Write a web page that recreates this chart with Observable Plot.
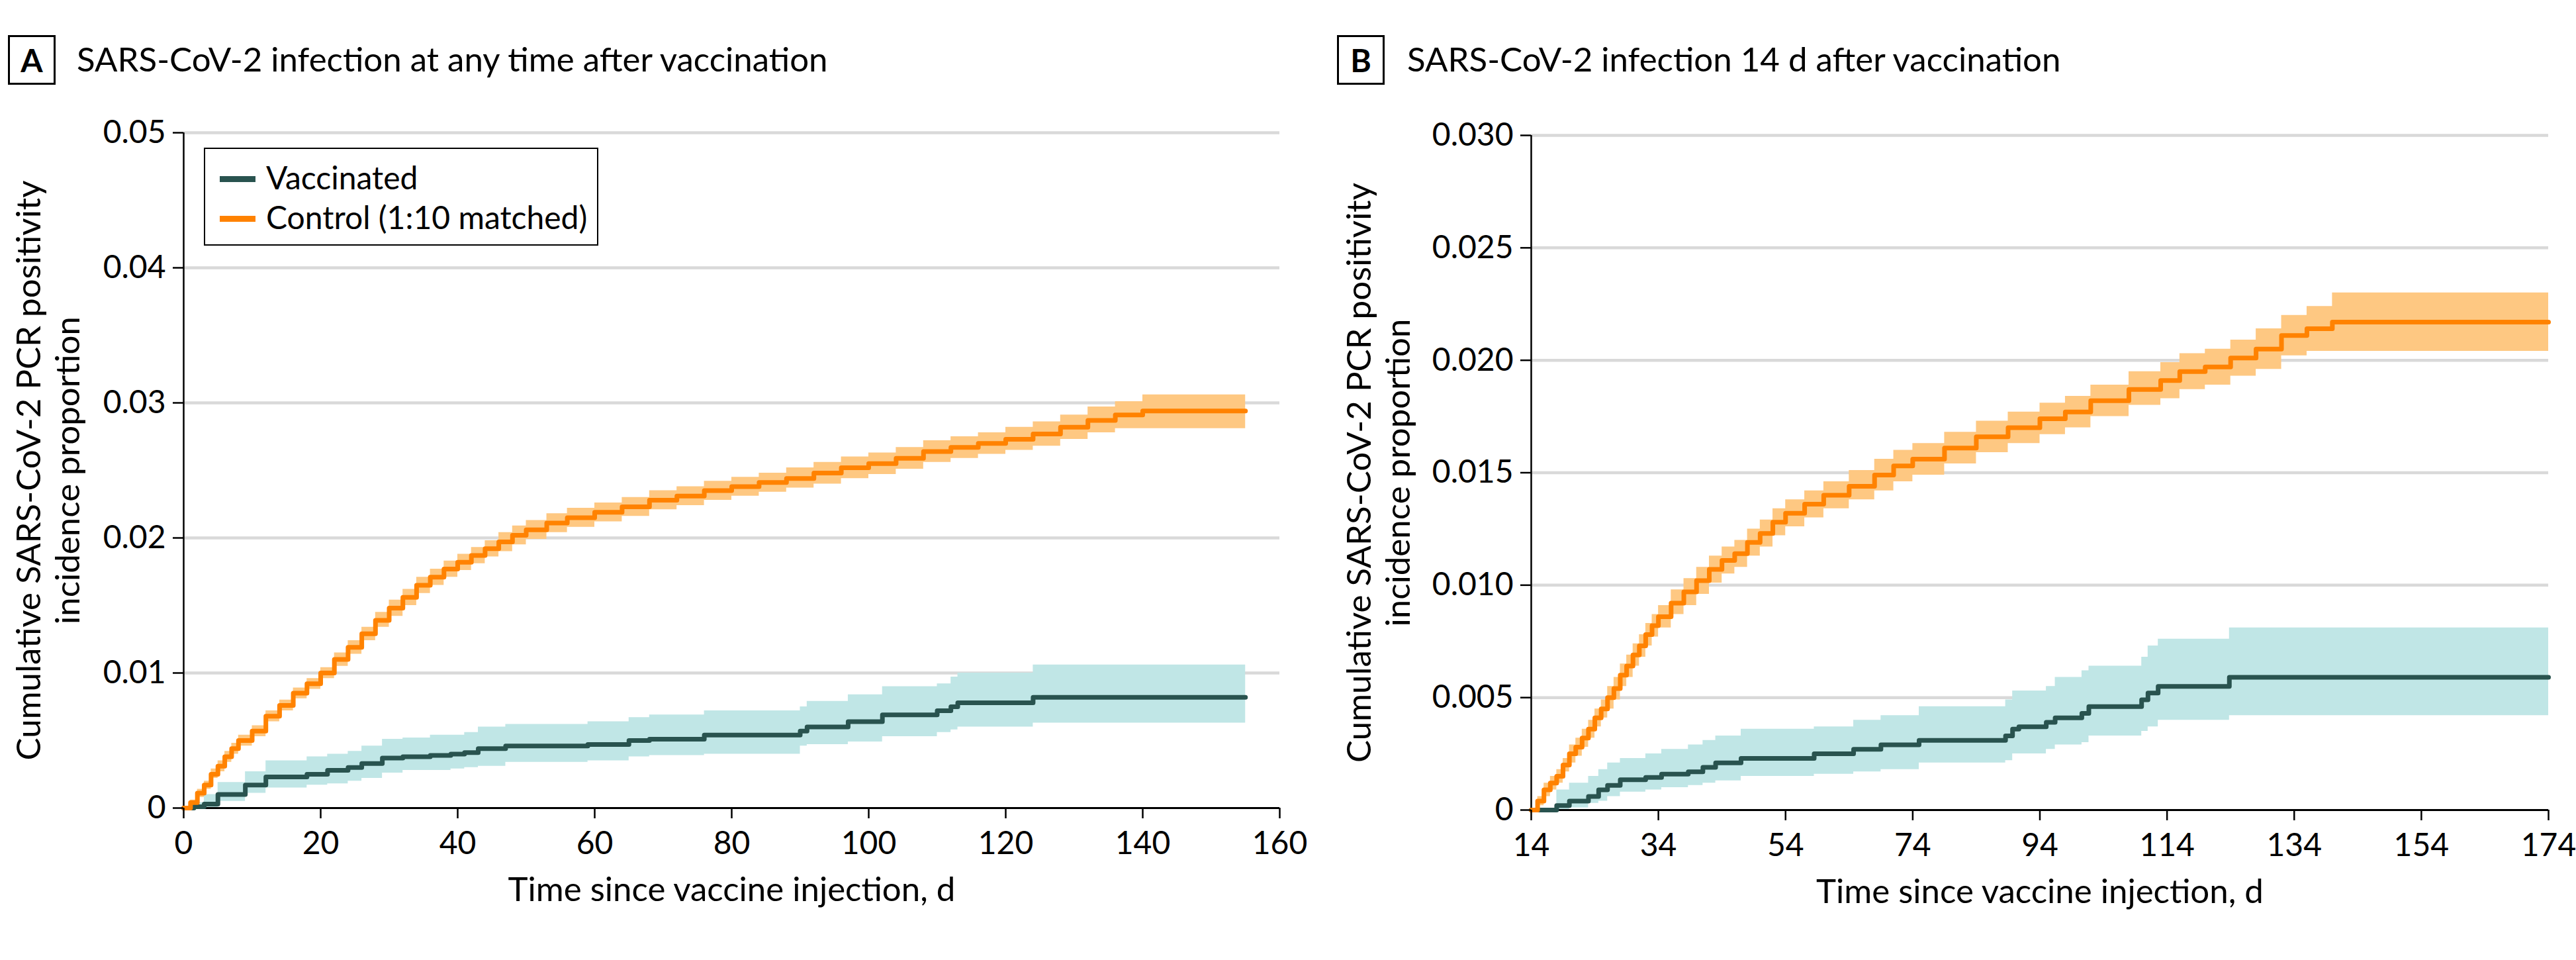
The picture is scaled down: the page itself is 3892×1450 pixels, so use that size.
<!DOCTYPE html>
<html><head><meta charset="utf-8">
<script src="https://cdn.jsdelivr.net/npm/d3@7"></script>
<script src="https://cdn.jsdelivr.net/npm/@observablehq/plot@0.6"></script>
<style>
  html,body{margin:0;padding:0;background:#fff;}
  body{width:3892px;height:1450px;position:relative;overflow:hidden;font-family:Lato,"Open Sans",sans-serif;color:#000;}
  .abs{position:absolute;}
  .tag{position:absolute;box-sizing:border-box;border:3px solid #000;width:72px;height:75px;font-weight:bold;font-size:48px;line-height:69px;text-align:center;}
  .title{position:absolute;font-size:51px;line-height:51px;white-space:nowrap;}
  .legend{position:absolute;box-sizing:border-box;border:2.5px solid #000;background:#fff;left:308px;top:223px;width:596px;height:148px;}
  .legend .row{position:absolute;left:22px;height:50px;font-size:48px;line-height:50px;white-space:nowrap;}
  .legend .sw{display:inline-block;width:54px;height:9px;vertical-align:middle;margin-right:16px;position:relative;top:-3px;}
</style></head><body>
<div id="panelA" class="abs" style="left:0;top:150px;"></div>
<div id="panelB" class="abs" style="left:1960px;top:150px;"></div>
<div class="tag" style="left:12px;top:53px;">A</div>
<div class="title" style="left:116px;top:63px;">SARS-CoV-2 infection at any time after vaccination</div>
<div class="tag" style="left:2020px;top:53px;">B</div>
<div class="title" style="left:2126px;top:63px;">SARS-CoV-2 infection 14 d after vaccination</div>
<div class="legend">
  <div class="row" style="top:18px;"><span class="sw" style="background:#29534f"></span>Vaccinated</div>
  <div class="row" style="top:78px;"><span class="sw" style="background:#ff8200"></span>Control (1:10 matched)</div>
</div>
<script>
// ---------- Panel A: infection at any time after vaccination ----------
const aCtrlDay = [0,1,2,3,4,5,6,7,8,10,12,14,16,18,20,22,24,26,28,30,32,34,36,38,40,42,44,46,48,50,53,56,60,64,68,72,76,80,84,88,92,96,100,104,108,112,116,120,124,128,132,136,140,155];
const aCtrlVal = [0,0.0004,0.0011,0.0017,0.0025,0.0031,0.0038,0.0044,0.0050,0.0057,0.0068,0.0076,0.0085,0.0092,0.0100,0.0110,0.0119,0.0129,0.0139,0.0148,0.0156,0.0165,0.0171,0.0177,0.0182,0.0187,0.0192,0.0197,0.0202,0.0206,0.0211,0.0215,0.0219,0.0223,0.0228,0.0231,0.0235,0.0238,0.0241,0.0244,0.0248,0.0252,0.0255,0.0259,0.0264,0.0267,0.0270,0.0273,0.0277,0.0282,0.0287,0.0291,0.0294,0.0294];
const aCtrlLo  = [0,0.0002,0.0008,0.0014,0.0022,0.0027,0.0034,0.0040,0.0046,0.0053,0.0064,0.0072,0.0081,0.0088,0.0096,0.0105,0.0114,0.0124,0.0134,0.0142,0.0150,0.0159,0.0165,0.0171,0.0176,0.0181,0.0186,0.0190,0.0195,0.0199,0.0204,0.0208,0.0212,0.0216,0.0221,0.0224,0.0228,0.0231,0.0234,0.0237,0.0240,0.0244,0.0247,0.0251,0.0256,0.0259,0.0262,0.0265,0.0268,0.0273,0.0278,0.0281,0.0281,0.0281];
const aCtrlHi  = [0,0.0006,0.0014,0.0020,0.0029,0.0035,0.0042,0.0048,0.0054,0.0061,0.0072,0.0080,0.0089,0.0096,0.0104,0.0115,0.0124,0.0134,0.0145,0.0154,0.0162,0.0171,0.0177,0.0183,0.0188,0.0193,0.0198,0.0204,0.0209,0.0213,0.0218,0.0222,0.0226,0.0230,0.0235,0.0238,0.0242,0.0245,0.0248,0.0252,0.0256,0.0260,0.0263,0.0267,0.0272,0.0275,0.0278,0.0282,0.0286,0.0291,0.0297,0.0301,0.0306,0.0306];

const aVaxDay = [0,1.5,3,5,9,12,18,21,24,26,29,32,36,39,41,43,47,59,65,68,76,90,91,97,102,110,112,113,124,155];
const aVaxVal = [0,0.0001,0.0003,0.0010,0.0017,0.0023,0.0025,0.0028,0.0030,0.0033,0.0037,0.0038,0.0039,0.0040,0.0041,0.0044,0.0046,0.0047,0.0050,0.0051,0.0054,0.0057,0.0060,0.0064,0.0069,0.0072,0.0075,0.0078,0.0082,0.0082];
const aVaxLo  = [0,0,0,0.0005,0.0011,0.0015,0.0017,0.0018,0.0020,0.0022,0.0026,0.0028,0.0028,0.0029,0.0030,0.0031,0.0034,0.0035,0.0038,0.0039,0.0040,0.0046,0.0047,0.0049,0.0053,0.0056,0.0058,0.0060,0.0063,0.0063];
const aVaxHi  = [0,0.0004,0.0010,0.0019,0.0027,0.0035,0.0038,0.0040,0.0042,0.0046,0.0051,0.0052,0.0054,0.0054,0.0056,0.0060,0.0062,0.0064,0.0067,0.0069,0.0072,0.0075,0.0079,0.0084,0.0090,0.0092,0.0097,0.0100,0.0106,0.0106];

const aXTicks = [0,20,40,60,80,100,120,140,160];
const aYTicks = [0,0.01,0.02,0.03,0.04,0.05];

// ---------- Panel B: infection 14 d after vaccination ----------
const bCtrlDay = [14,15,16,17,18,19,20,21,22,23,24,25,26,27,28,29,30,31,32,33,34,36,38,40,42,44,46,48,50,52,54,57,60,64,68,71,74,79,84,89,94,98,102,108,113,116,120,124,128,132,136,140,174];
const bCtrlVal = [0,0.0004,0.0009,0.0012,0.0015,0.0020,0.0025,0.0028,0.0032,0.0036,0.0041,0.0045,0.0050,0.0054,0.0060,0.0064,0.0069,0.0073,0.0078,0.0082,0.0086,0.0092,0.0097,0.0102,0.0107,0.0111,0.0114,0.0119,0.0123,0.0128,0.0132,0.0136,0.0140,0.0144,0.0149,0.0153,0.0156,0.0161,0.0166,0.0170,0.0174,0.0177,0.0182,0.0187,0.0191,0.0195,0.0197,0.0201,0.0205,0.0211,0.0214,0.0217,0.0217];
const bCtrlLo  = [0,0.0002,0.0006,0.0009,0.0012,0.0017,0.0021,0.0024,0.0028,0.0032,0.0037,0.0041,0.0045,0.0049,0.0055,0.0059,0.0064,0.0068,0.0073,0.0077,0.0081,0.0087,0.0091,0.0096,0.0101,0.0105,0.0108,0.0113,0.0117,0.0122,0.0126,0.0130,0.0134,0.0138,0.0142,0.0146,0.0149,0.0154,0.0159,0.0163,0.0167,0.0170,0.0175,0.0180,0.0183,0.0187,0.0189,0.0193,0.0196,0.0202,0.0204,0.0204,0.0204];
const bCtrlHi  = [0,0.0006,0.0012,0.0015,0.0018,0.0023,0.0029,0.0032,0.0036,0.0040,0.0045,0.0049,0.0055,0.0059,0.0065,0.0069,0.0074,0.0078,0.0083,0.0087,0.0091,0.0098,0.0103,0.0108,0.0113,0.0117,0.0120,0.0125,0.0129,0.0134,0.0138,0.0142,0.0146,0.0151,0.0156,0.0160,0.0163,0.0168,0.0173,0.0177,0.0181,0.0184,0.0189,0.0195,0.0199,0.0203,0.0205,0.0209,0.0214,0.0220,0.0224,0.0230,0.0230];

const bVaxDay = [14,18,20,23,24.6,26,28,32,34.5,38.7,41,43,47,58.5,64.7,69,75,88.6,89.7,90.7,95,96.4,100.6,101.7,110,111,112.6,123.8,174];
const bVaxVal = [0,0.0002,0.0004,0.0006,0.0009,0.0011,0.00135,0.00145,0.0016,0.0017,0.0019,0.0021,0.0023,0.0025,0.0027,0.0029,0.0031,0.0033,0.0036,0.0037,0.0039,0.0041,0.0043,0.0046,0.0049,0.0052,0.0055,0.0059,0.0059];
const bVaxLo  = [0,0,0.0001,0.0003,0.0004,0.0006,0.0008,0.0009,0.0010,0.0011,0.0012,0.0013,0.0015,0.0016,0.0017,0.0018,0.0021,0.0022,0.0025,0.0025,0.0027,0.0029,0.0030,0.0033,0.0035,0.0037,0.0040,0.0042,0.0042];
const bVaxHi  = [0,0.0009,0.0012,0.0015,0.0018,0.0021,0.0023,0.0025,0.0027,0.0029,0.0031,0.0033,0.0036,0.0037,0.0040,0.0042,0.0046,0.0049,0.0053,0.0053,0.0055,0.0059,0.0062,0.0064,0.0068,0.0073,0.0076,0.0081,0.0081];

const bXTicks = [14,34,54,74,94,114,134,154,174];
const bYTicks = [0,0.005,0.010,0.015,0.020,0.025,0.030];

const yTitle = "Cumulative SARS-CoV-2 PCR positivity\nincidence proportion";
const xTitle = "Time since vaccine injection, d";

const FONT = 'Lato, "Open Sans", sans-serif';
const VAX = "#29534f", VAXBAND = "#c0e6e6", CTRL = "#ff8200", CTRLBAND = "#fec882", GRID = "#d9d9d9";

function rows(day, val, lo, hi) {
  return day.map((d, i) => ({day: d, val: val[i], lo: lo[i], hi: hi[i]}));
}

function panel(cfg) {
  const vax = rows(cfg.vaxDay, cfg.vaxVal, cfg.vaxLo, cfg.vaxHi);
  const ctrl = rows(cfg.ctrlDay, cfg.ctrlVal, cfg.ctrlLo, cfg.ctrlHi);
  const x0 = cfg.xTicks[0];
  return Plot.plot({
    width: cfg.width, height: cfg.height,
    marginLeft: cfg.ml, marginRight: cfg.mr, marginTop: cfg.mt, marginBottom: cfg.mb,
    x: {domain: [x0, cfg.xTicks[cfg.xTicks.length - 1]]},
    y: {domain: [0, cfg.yTicks[cfg.yTicks.length - 1]]},
    style: {fontFamily: FONT, fontSize: "48px", color: "#000", background: "transparent", overflow: "visible"},
    marks: [
      Plot.ruleY(cfg.yTicks.filter(d => d > 0), {stroke: GRID, strokeWidth: 4.5}),
      Plot.areaY(vax, {x: "day", y1: "lo", y2: "hi", fill: VAXBAND, curve: "step-after"}),
      Plot.areaY(ctrl, {x: "day", y1: "lo", y2: "hi", fill: CTRLBAND, curve: "step-after"}),
      Plot.ruleX([x0], {stroke: "#000", strokeWidth: 2.5}),
      Plot.ruleY([0], {stroke: "#000", strokeWidth: 3}),
      Plot.lineY(vax, {x: "day", y: "val", stroke: VAX, strokeWidth: 7, curve: "step-after"}),
      Plot.lineY(ctrl, {x: "day", y: "val", stroke: CTRL, strokeWidth: 7, curve: "step-after"}),
      Plot.axisY({ticks: cfg.yTicks, tickFormat: cfg.yFmt, tickSize: 16, tickPadding: 11, strokeWidth: 2.5, label: null, fontSize: 48}),
      Plot.axisX({ticks: cfg.xTicks, tickFormat: d => String(d), tickSize: 16, tickPadding: 19, strokeWidth: 2.5, label: null, fontSize: 48}),
      Plot.text([yTitle], {text: d => d, frameAnchor: "left", textAnchor: "middle", dx: cfg.yTitleDx, rotate: -90, fontSize: 51, lineHeight: 1.15}),
      Plot.text([xTitle], {text: d => d, frameAnchor: "bottom", dy: 140, fontSize: 51})
    ]
  });
}

document.getElementById("panelA").appendChild(panel({
  width: 1960, height: 1250, ml: 277, mr: 27, mt: 50, mb: 180,
  xTicks: aXTicks, yTicks: aYTicks, yFmt: d => d === 0 ? "0" : d.toFixed(2), yTitleDx: -206,
  vaxDay: aVaxDay, vaxVal: aVaxVal, vaxLo: aVaxLo, vaxHi: aVaxHi,
  ctrlDay: aCtrlDay, ctrlVal: aCtrlVal, ctrlLo: aCtrlLo, ctrlHi: aCtrlHi
}));
document.getElementById("panelB").appendChild(panel({
  width: 1932, height: 1250, ml: 353, mr: 42, mt: 54, mb: 177,
  xTicks: bXTicks, yTicks: bYTicks, yFmt: d => d === 0 ? "0" : d.toFixed(3), yTitleDx: -232,
  vaxDay: bVaxDay, vaxVal: bVaxVal, vaxLo: bVaxLo, vaxHi: bVaxHi,
  ctrlDay: bCtrlDay, ctrlVal: bCtrlVal, ctrlLo: bCtrlLo, ctrlHi: bCtrlHi
}));
</script>
</body></html>
